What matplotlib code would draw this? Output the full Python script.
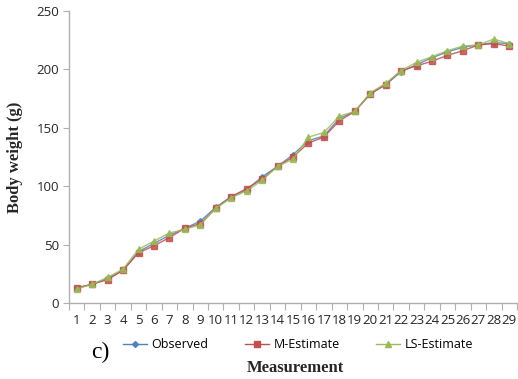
import matplotlib
matplotlib.use("Agg")
import matplotlib.pyplot as plt
from matplotlib.lines import Line2D
import numpy as np

categories = [str(i) for i in range(1, 30)]
observed = [13, 16, 21, 28, 44, 51, 58, 64, 70, 82, 91, 97, 108, 117, 127, 139, 143, 158, 164, 179,
            187, 198, 204, 210, 215, 219, 221, 223, 222]
m_estimate = [13, 16, 20, 28, 43, 49, 56, 64, 68, 81, 91, 98, 106, 117, 125, 137, 142, 156, 164, 179,
              187, 199, 203, 207, 212, 216, 221, 222, 220]
ls_estimate = [12, 16, 22, 29, 46, 53, 60, 63, 67, 81, 90, 96, 105, 117, 123, 142, 146, 160, 164, 180,
               188, 199, 206, 211, 216, 220, 221, 226, 222]
series_names = ["Observed", "M-Estimate", "LS-Estimate"]
yticks = [0, 50, 100, 150, 200, 250]

colors = ["#4F81BD", "#C0504D", "#9BBB59"]
markers = ["D", "s", "^"]
msizes = [3.0, 4.5, 5.0]

fig = plt.figure(figsize=(5.18, 3.79), dpi=100)
ax = fig.add_axes([69/518, 1-303/379, (517-69)/518, (303-11)/379])

x = np.arange(len(categories))
for vals, c, m, ms in zip([observed, m_estimate, ls_estimate], colors, markers, msizes):
    ax.plot(x, vals, color=c, lw=1.0, alpha=0.85, marker=m, ms=ms, mec=c, mfc=c)

ax.set_xlim(-0.5, len(categories) - 0.5)
ax.set_ylim(0, 250)
ax.set_yticks(yticks)
ax.set_xticks(x)
ax.set_xticklabels(categories)
ax.set_xticks(np.arange(-0.5, len(categories), 1.0), minor=True)
ax.tick_params(axis="x", which="major", length=0, pad=8, labelsize=9.5, labelcolor="#262626")
ax.tick_params(axis="x", which="minor", length=5, color="#B0B0B0", width=0.8, direction="out")
ax.tick_params(axis="y", length=4, color="#B0B0B0", width=0.8, labelsize=9.5, labelcolor="#262626", pad=3)
for lab in ax.get_xticklabels() + ax.get_yticklabels():
    lab.set_fontfamily("Open Sans")

for s in ["top", "right"]:
    ax.spines[s].set_visible(False)
for s in ["left", "bottom"]:
    ax.spines[s].set_color("#B0B0B0")
    ax.spines[s].set_linewidth(1.0)

ax.set_ylabel("Body weight (g)", family="Liberation Serif", fontsize=12, fontweight="bold", color="#262626", labelpad=10)
fig.text(295/518, 1-368/379, "Measurement", family="Liberation Serif", fontsize=12, fontweight="bold",
         ha="center", va="center", color="#262626")
fig.text(100/518, 1-352/379, "c)", family="Liberation Serif", fontsize=17, ha="center", va="center")

handles = [Line2D([0], [0], color=c, lw=1.0, marker=m, ms=ms, mfc=c, mec=c)
           for c, m, ms in zip(colors, markers, msizes)]
fig.legend(handles, series_names, loc="center", bbox_to_anchor=(298/518, 1-345/379), ncol=3, frameon=False,
           prop={"family": "Open Sans", "size": 9}, handlelength=1.9, columnspacing=2.9, handletextpad=0.4)

fig.savefig("out.png", dpi=100)
